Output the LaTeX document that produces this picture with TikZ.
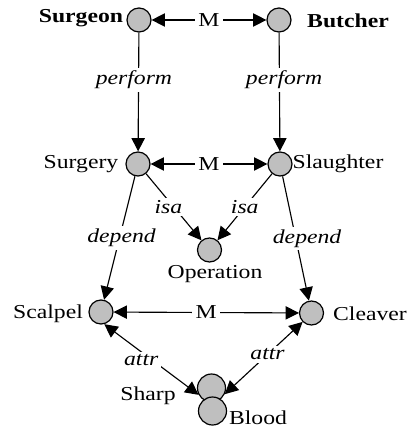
\documentclass[tikz,border=0pt]{standalone}
\usepackage{fontspec}
\setmainfont{Liberation Serif}[FakeStretch=1.2]
\usetikzlibrary{arrows.meta}

\tikzset{
  concept/.style={circle,draw,line width=0.9pt,fill=black!25,minimum size=18pt,inner sep=0pt},
  bigconcept/.style={concept,minimum size=21pt},
  rel/.style={fill=white,inner sep=2pt,font=\itshape},
  mlabel/.style={fill=white,inner sep=2.5pt},
  link/.style={line width=0.85pt,-{Triangle[length=10pt,width=10pt]}},
  twoway/.style={line width=0.85pt,{Triangle[length=10pt,width=10pt]}-{Triangle[length=10pt,width=10pt]}},
}

\begin{document}
\fontsize{14.8}{17}\selectfont
\begin{tikzpicture}[x=0.75pt,y=-0.75pt]
	\useasboundingbox (0,0) rectangle (409,431);
	% concepts
	\node [concept] (surgeon) at (139,20){};
	\node [concept] (butcher) at (279,20){};
	\node [concept] (surgery) at (138,164){};
	\node [concept] (slaughter) at (280,164){};
	\node [concept] (operation) at (209.5,250){};
	\node [concept] (scalpel) at (101,312){};
	\node [concept] (cleaver) at (311.5,313){};
	\node [bigconcept] (sharp) at (211.5,388){};
	\node [bigconcept] (blood) at (212.5,411){};
	% names
	\node [font=\bfseries] (surgeonname) at (81,18){Surgeon};
	\node [font=\bfseries] (butchername) at (348,21){Butcher};
	\node (surgeryname) at (81,164){Surgery};
	\node (slaughtername) at (338,164){Slaughter};
	\node (operationname) at (215,274){Operation};
	\node (scalpelname) at (48,314){Scalpel};
	\node (cleavername) at (370,314){Cleaver};
	\node (sharpname) at (148,396){Sharp};
	\node (bloodname) at (258,418){Blood};
	% relations
	\draw [twoway](surgeon)--node[mlabel]{M}(butcher);
	\draw [link](surgeon)--node[rel,pos=0.4,xshift=-3.5pt]{perform}(surgery);
	\draw [link](butcher)--node[rel,pos=0.4,xshift=3.5pt]{perform}(slaughter);
	\draw [twoway](surgery)--node[mlabel]{M}(slaughter);
	\draw [link](surgery)--node[rel,xshift=-4pt]{isa}(operation);
	\draw [link](slaughter)--node[rel]{isa}(operation);
	\draw [link](surgery)--node[rel,xshift=1.5pt]{depend}(scalpel);
	\draw [link](slaughter)--node[rel,xshift=8.5pt]{depend}(cleaver);
	\draw [twoway](scalpel)--node[mlabel]{M}(cleaver);
	\draw [twoway](scalpel.-75)--node[rel,pos=0.42,yshift=-5pt,xshift=-2pt]{attr}(sharp.208);
	\draw [twoway](cleaver.south west)--node[rel,pos=0.45]{attr}(sharp.-25);
\end{tikzpicture}
\end{document}
